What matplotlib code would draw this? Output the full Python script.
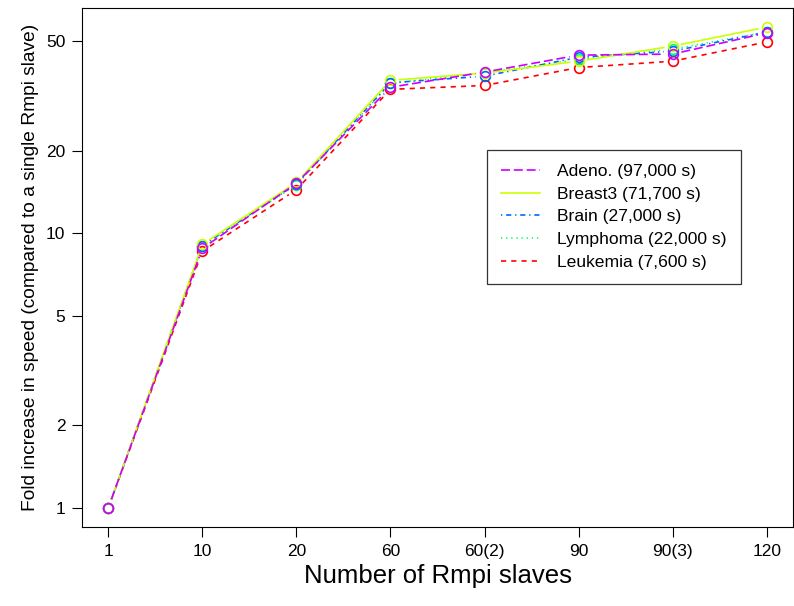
import matplotlib
matplotlib.use('Agg')
import matplotlib.pyplot as plt
from matplotlib.lines import Line2D
import numpy as np

plt.rcParams['font.family'] = ['Liberation Sans', 'DejaVu Sans']

slaves = ['1', '10', '20', '60', '60(2)', '90', '90(3)', '120']

adeno = [1, 8.8, 15.2, 34.0, 38.6, 44.5, 44.9, 53.6]
breast3 = [1, 9.1, 15.3, 36.0, 38.3, 42.3, 48.0, 56.3]
brain = [1, 9.0, 15.1, 35.3, 37.3, 43.7, 46.0, 54.0]
lymphoma = [1, 9.0, 15.0, 35.1, 38.4, 43.0, 46.8, 54.0]
leukemia = [1, 8.6, 14.4, 33.4, 34.5, 40.1, 42.3, 49.7]

labels = ['Adeno. (97,000 s)', 'Breast3 (71,700 s)', 'Brain (27,000 s)',
          'Lymphoma (22,000 s)', 'Leukemia (7,600 s)']
series = [adeno, breast3, brain, lymphoma, leukemia]
colors = ['#CC00FF', '#CCFF00', '#0066FF', '#00FF66', '#FF0000']
dashes = [(7, 3), None, (1, 3, 4, 3), (1, 3), (4, 4)]

fig = plt.figure(figsize=(7.94, 6.06), dpi=100)
ax = fig.add_axes([82 / 794, 1 - 527 / 606, 711 / 794, 519 / 606])

x = np.arange(1, len(slaves) + 1)

ax.set_yscale('log')
ymin, ymax = 0.0, 1.75
pad = 0.04 * (ymax - ymin)
ax.set_ylim(10 ** (ymin - pad), 10 ** (ymax + pad))
ax.set_xlim(1 - 0.04 * 7, 8 + 0.04 * 7)


def linestyle(d):
    if d is None:
        return '-'
    return (0, tuple(v / 1.3 for v in d))


# lines with gaps around the points, like R's type="b"
gap = 9.0
for i in [4, 3, 2, 1, 0]:
    pts = ax.transData.transform(np.column_stack([x, series[i]]))
    for k in range(len(pts) - 1):
        p0, p1 = pts[k], pts[k + 1]
        v = p1 - p0
        L = np.hypot(*v)
        if L <= 2 * gap:
            continue
        u = v / L
        seg = ax.transData.inverted().transform([p0 + u * gap, p1 - u * gap])
        ax.plot(seg[:, 0], seg[:, 1], color=colors[i], linestyle=linestyle(dashes[i]),
                linewidth=1.2)
    ax.plot(x, series[i], linestyle='none', marker='o', markersize=7,
            markerfacecolor='none', markeredgecolor=colors[i], markeredgewidth=1.2)

handles = [Line2D([], [], color=colors[i], linestyle=linestyle(dashes[i]), linewidth=1.2)
           for i in range(5)]

ax.set_yticks([1, 2, 5, 10, 20, 50])
ax.set_yticklabels(['1', '2', '5', '10', '20', '50'])
ax.minorticks_off()
ax.set_xticks(x)
ax.set_xticklabels(slaves)
ax.tick_params(axis='both', direction='out', length=7, width=0.8, labelsize=12.5, pad=5)

ax.set_xlabel('Number of Rmpi slaves', fontsize=18.5, labelpad=4)
ax.set_ylabel('Fold increase in speed (compared to a single Rmpi slave)', fontsize=13.8, labelpad=5)

leg = ax.legend(handles, labels, loc='upper left',
                bbox_to_anchor=((487 - 82) / 711, 1 - (150 - 8) / 519),
                borderaxespad=0, fontsize=12.6, frameon=True, fancybox=False,
                edgecolor='black', handlelength=2.2, borderpad=0.8,
                labelspacing=0.42, handletextpad=1.0)
leg.get_frame().set_linewidth(0.9)

fig.savefig('out.png', dpi=100)
